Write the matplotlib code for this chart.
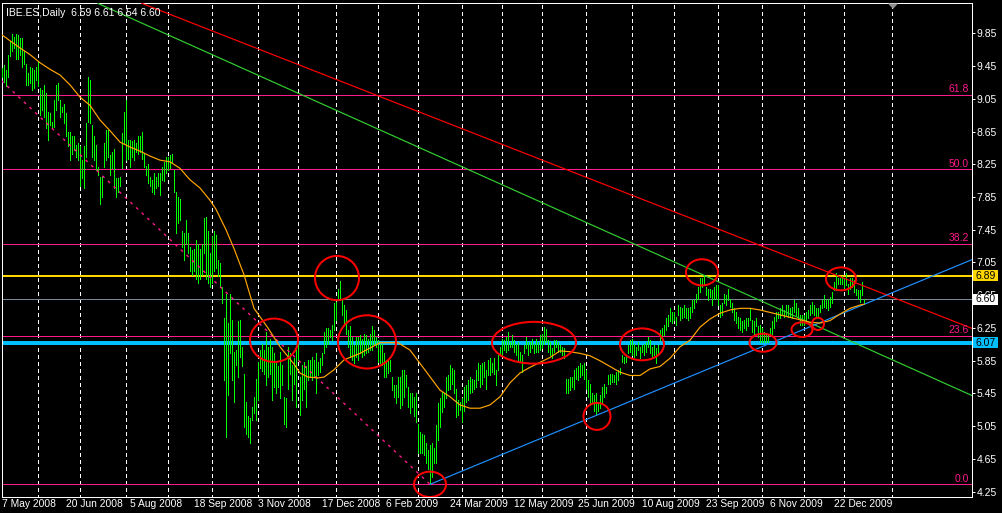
import matplotlib
matplotlib.use("Agg")
import matplotlib.pyplot as plt
import matplotlib.transforms as mtransforms
from matplotlib.patches import Ellipse, Rectangle, Polygon

# ---------------- data ----------------
symbol_title = "IBE.ES,Daily"
last_ohlc = [6.59, 6.61, 6.54, 6.60]

highs = [
    9.42, 9.46, 9.40, 9.59, 9.75, 9.84, 9.81, 9.84, 9.83, 9.79,
    9.79, 9.63, 9.48, 9.36, 9.44, 9.42, 9.40, 9.44, 9.50, 9.18,
    9.16, 9.22, 9.12, 8.89, 8.87, 8.77, 9.04, 9.22, 9.24, 9.04,
    8.95, 8.99, 8.87, 8.65, 8.65, 8.59, 8.59, 8.49, 8.51, 8.47,
    8.30, 8.47, 8.75, 9.32, 9.28, 8.73, 8.59, 8.49, 8.22, 8.10,
    8.10, 8.51, 8.67, 8.67, 8.36, 8.40, 8.44, 8.08, 8.08, 8.10,
    8.63, 8.89, 9.04, 8.55, 8.55, 8.53, 8.55, 8.51, 8.60, 8.59,
    8.65, 8.38, 8.23, 8.25, 8.10, 8.06, 8.14, 8.10, 8.14, 8.14,
    8.22, 8.28, 8.34, 8.34, 8.36, 8.38, 8.18, 7.91, 7.85, 7.83,
    7.43, 7.41, 7.57, 7.41, 7.24, 7.20, 7.22, 7.32, 7.28, 7.22,
    7.28, 7.59, 7.61, 7.43, 7.16, 7.37, 7.43, 7.38, 7.08, 7.04,
    6.75, 6.37, 6.67, 6.31, 6.67, 6.35, 5.96, 5.98, 6.33, 6.35,
    6.02, 5.69, 5.35, 5.17, 5.15, 5.29, 5.41, 5.63, 5.84, 5.98,
    6.06, 5.98, 6.20, 6.02, 6.12, 6.02, 5.94, 5.82, 5.78, 5.96,
    5.80, 5.41, 5.39, 6.02, 5.94, 5.80, 5.88, 6.02, 6.10, 5.65,
    5.80, 5.84, 5.78, 5.86, 5.86, 5.90, 5.86, 5.94, 5.84, 5.88,
    5.94, 6.20, 6.25, 6.25, 6.22, 6.29, 6.55, 6.57, 6.73, 6.82,
    6.59, 6.53, 6.47, 6.22, 6.27, 6.14, 6.04, 6.14, 6.14, 6.16,
    6.12, 6.18, 6.16, 6.12, 6.18, 6.27, 6.22, 6.14, 6.10, 6.06,
    6.06, 5.94, 5.86, 5.86, 5.86, 5.65, 5.55, 5.55, 5.65, 5.65,
    5.74, 5.74, 5.68, 5.53, 5.45, 5.45, 5.41, 5.45, 5.08, 4.98,
    4.96, 4.94, 4.84, 4.76, 4.82, 4.84, 4.78, 5.06, 5.33, 5.39,
    5.47, 5.46, 5.65, 5.67, 5.80, 5.76, 5.74, 5.51, 5.37, 5.35,
    5.39, 5.53, 5.55, 5.61, 5.65, 5.63, 5.61, 5.74, 5.82, 5.80,
    5.82, 5.84, 5.74, 5.86, 5.88, 5.82, 5.88, 5.74, 5.92, 6.02,
    6.12, 6.10, 6.14, 6.20, 6.08, 6.16, 6.10, 6.06, 6.08, 5.96,
    5.92, 6.04, 6.14, 6.08, 6.08, 6.12, 6.06, 6.12, 6.08, 6.16,
    6.18, 6.26, 6.24, 6.10, 6.08, 6.00, 6.10, 6.10, 6.08, 6.04,
    6.02, 6.00, 5.63, 5.63, 5.65, 5.65, 5.74, 5.76, 5.78, 5.82,
    5.80, 5.82, 5.74, 5.61, 5.57, 5.45, 5.43, 5.45, 5.33, 5.43,
    5.53, 5.57, 5.53, 5.67, 5.69, 5.69, 5.67, 5.71, 5.74, 5.76,
    5.92, 5.90, 5.92, 6.04, 6.10, 6.12, 6.06, 6.02, 6.08, 6.02,
    6.04, 6.06, 6.08, 6.14, 6.10, 6.02, 6.04, 6.00, 6.04, 6.22,
    6.25, 6.29, 6.37, 6.41, 6.49, 6.45, 6.45, 6.39, 6.53, 6.51,
    6.49, 6.53, 6.49, 6.49, 6.51, 6.59, 6.59, 6.67, 6.75, 6.86,
    6.86, 6.88, 6.75, 6.73, 6.73, 6.71, 6.75, 6.77, 6.77, 6.53,
    6.55, 6.67, 6.65, 6.73, 6.61, 6.55, 6.49, 6.45, 6.39, 6.37,
    6.33, 6.35, 6.37, 6.37, 6.49, 6.35, 6.33, 6.37, 6.27, 6.29,
    6.25, 6.20, 6.18, 6.16, 6.25, 6.33, 6.39, 6.45, 6.45, 6.49,
    6.53, 6.47, 6.53, 6.53, 6.49, 6.51, 6.59, 6.55, 6.49, 6.41,
    6.41, 6.41, 6.45, 6.47, 6.53, 6.57, 6.53, 6.49, 6.49, 6.53,
    6.59, 6.65, 6.59, 6.61, 6.63, 6.69, 6.81, 6.92, 6.86, 6.86,
    6.88, 6.86, 6.92, 6.79, 6.86, 6.86, 6.84, 6.73, 6.71, 6.71,
    6.81, 6.61,
]

lows = [
    9.32, 9.26, 9.20, 9.32, 9.57, 9.63, 9.67, 9.53, 9.54, 9.59,
    9.44, 9.48, 9.22, 9.22, 9.24, 9.16, 9.18, 9.28, 9.20, 8.85,
    8.91, 8.83, 8.69, 8.55, 8.73, 8.69, 8.71, 8.91, 9.04, 8.83,
    8.89, 8.75, 8.59, 8.47, 8.30, 8.38, 8.42, 8.34, 8.30, 7.98,
    8.08, 7.96, 8.34, 8.77, 8.75, 8.34, 8.30, 8.18, 8.12, 7.77,
    7.85, 8.22, 8.30, 8.34, 8.12, 8.20, 7.96, 7.85, 7.91, 7.98,
    8.20, 8.51, 8.30, 8.32, 8.22, 8.34, 8.30, 8.40, 8.38, 8.40,
    8.32, 8.22, 8.12, 8.02, 7.98, 7.91, 7.89, 7.96, 7.98, 7.87,
    8.06, 8.04, 8.14, 8.18, 8.20, 8.26, 7.91, 7.41, 7.53, 7.57,
    7.24, 7.08, 7.28, 7.16, 6.95, 6.90, 6.95, 6.85, 6.80, 6.85,
    6.90, 7.16, 6.85, 6.80, 6.75, 6.80, 6.95, 6.98, 6.88, 6.75,
    6.55, 5.61, 4.92, 5.43, 5.94, 5.61, 5.35, 5.80, 5.65, 5.90,
    5.78, 5.04, 4.96, 4.92, 4.84, 5.13, 5.21, 5.13, 5.37, 5.76,
    5.72, 5.69, 5.55, 5.65, 5.69, 5.37, 5.53, 5.45, 5.53, 5.39,
    5.55, 5.08, 5.04, 5.51, 5.69, 5.37, 5.57, 5.29, 5.86, 5.19,
    5.37, 5.51, 5.29, 5.61, 5.65, 5.61, 5.65, 5.45, 5.67, 5.71,
    5.80, 5.94, 6.02, 6.06, 6.14, 6.10, 6.22, 6.35, 6.59, 6.59,
    6.41, 6.31, 6.18, 6.02, 5.90, 5.86, 5.82, 5.90, 5.86, 5.94,
    5.90, 5.92, 5.94, 5.96, 5.98, 5.98, 6.06, 6.02, 5.84, 5.82,
    5.80, 5.65, 5.65, 5.70, 5.72, 5.49, 5.41, 5.33, 5.41, 5.27,
    5.31, 5.41, 5.53, 5.29, 5.21, 5.29, 5.17, 5.10, 4.72, 4.72,
    4.72, 4.70, 4.60, 4.53, 4.34, 4.43, 4.60, 4.60, 4.88, 5.04,
    5.22, 5.28, 5.39, 5.49, 5.51, 5.57, 5.45, 5.16, 5.19, 5.25,
    5.10, 5.23, 5.35, 5.37, 5.45, 5.47, 5.51, 5.53, 5.61, 5.53,
    5.57, 5.65, 5.51, 5.67, 5.67, 5.71, 5.69, 5.55, 5.74, 5.92,
    5.92, 5.98, 5.96, 5.98, 6.02, 6.02, 5.96, 5.92, 5.86, 5.84,
    5.71, 5.94, 6.00, 5.92, 5.96, 6.00, 5.94, 5.96, 5.96, 5.98,
    6.00, 6.06, 6.08, 5.96, 5.92, 5.88, 5.96, 6.02, 5.96, 5.96,
    5.92, 5.88, 5.45, 5.45, 5.49, 5.53, 5.51, 5.63, 5.61, 5.65,
    5.67, 5.63, 5.51, 5.41, 5.31, 5.35, 5.23, 5.20, 5.23, 5.27,
    5.33, 5.41, 5.45, 5.57, 5.57, 5.59, 5.59, 5.57, 5.61, 5.69,
    5.84, 5.82, 5.84, 5.94, 5.96, 5.92, 5.90, 5.92, 5.98, 5.88,
    5.96, 5.92, 5.96, 6.02, 5.94, 5.88, 5.92, 5.82, 5.92, 6.10,
    6.12, 6.16, 6.22, 6.27, 6.33, 6.31, 6.35, 6.29, 6.41, 6.35,
    6.37, 6.39, 6.37, 6.35, 6.37, 6.45, 6.49, 6.57, 6.61, 6.69,
    6.75, 6.77, 6.65, 6.59, 6.63, 6.53, 6.61, 6.61, 6.53, 6.39,
    6.41, 6.55, 6.53, 6.59, 6.51, 6.45, 6.35, 6.31, 6.25, 6.22,
    6.20, 6.25, 6.22, 6.27, 6.35, 6.20, 6.16, 6.27, 6.14, 6.08,
    6.08, 6.08, 6.08, 6.08, 6.16, 6.18, 6.25, 6.33, 6.37, 6.37,
    6.41, 6.39, 6.41, 6.39, 6.39, 6.37, 6.45, 6.41, 6.37, 6.29,
    6.29, 6.29, 6.33, 6.37, 6.41, 6.43, 6.41, 6.37, 6.39, 6.45,
    6.49, 6.51, 6.49, 6.47, 6.51, 6.55, 6.71, 6.71, 6.79, 6.79,
    6.79, 6.71, 6.77, 6.67, 6.73, 6.75, 6.69, 6.65, 6.61, 6.57,
    6.65, 6.54,
]

# moving average (orange), read at sampled bars
ma_bars = [0, 9, 14, 19, 24, 29, 34, 39, 44, 49, 54, 59, 64, 69, 74, 79, 84, 89,
           94, 99, 104, 107, 112, 116, 121, 126, 133, 139, 146, 149, 153, 158,
           161, 166, 171, 179, 189, 198, 204, 212, 219, 224, 229, 234, 239, 244,
           249, 254, 259, 264, 269, 274, 279, 284, 289, 294, 299, 304, 309, 314,
           319, 324, 329, 334, 339, 344, 349, 354, 359, 364, 369, 374, 379, 384,
           389, 394, 399, 404, 409, 414, 419, 424, 429, 431]
ma_values = [9.83, 9.67, 9.59, 9.49, 9.41, 9.34, 9.22, 9.07, 8.97, 8.79, 8.66,
             8.52, 8.46, 8.41, 8.35, 8.30, 8.28, 8.20, 8.06, 7.96, 7.81, 7.70,
             7.45, 7.22, 6.90, 6.49, 6.25, 6.02, 5.81, 5.70, 5.65, 5.64, 5.65,
             5.74, 5.86, 5.94, 6.07, 6.07, 5.98, 5.72, 5.49, 5.41, 5.31, 5.27,
             5.27, 5.31, 5.41, 5.58, 5.70, 5.77, 5.83, 5.89, 5.97, 5.96, 5.94,
             5.91, 5.85, 5.78, 5.71, 5.67, 5.67, 5.75, 5.78, 5.88, 6.02, 6.10,
             6.26, 6.36, 6.43, 6.47, 6.49, 6.49, 6.47, 6.44, 6.41, 6.38, 6.35,
             6.32, 6.31, 6.34, 6.42, 6.49, 6.53, 6.54]

# month separators (bar index) and date labels (every 32 bars)
month_start_bars = [18, 39, 62, 83, 105, 128, 148, 167, 188, 208, 230, 250,
                    270, 292, 315, 336, 358, 380, 401, 421, 445]
date_labels = ["7 May 2008", "20 Jun 2008", "5 Aug 2008", "18 Sep 2008",
               "3 Nov 2008", "17 Dec 2008", "6 Feb 2009", "24 Mar 2009",
               "12 May 2009", "25 Jun 2009", "10 Aug 2009", "23 Sep 2009",
               "6 Nov 2009", "22 Dec 2009"]
date_label_bars = [0, 32, 64, 96, 128, 160, 192, 224, 256, 288, 320, 352, 384, 416]

price_ticks = [4.25, 4.65, 5.05, 5.45, 5.85, 6.25, 6.65, 7.05, 7.45, 7.85,
               8.25, 8.65, 9.05, 9.45, 9.85]

fib_low = 4.34
fib_high = 12.04
fib_ratios = [0.0, 0.236, 0.382, 0.5, 0.618]

level_yellow = 6.89
level_last = 6.60
level_cyan = 6.07

# trend lines: two anchor points (bar index, price)
red_line = [(70.5, 10.21), (484.5, 6.25)]
green_line = [(47.5, 10.22), (484.5, 5.43)]
blue_ray = [(214, 4.34), (484.5, 7.08)]
pink_segment = [(-0.25, 9.27), (214, 4.34)]

# red annotation ellipses: (bar, price, width in bars, height in price)
circles = [
    (167.5, 6.86, 22, 0.54),
    (136.0, 6.10, 24, 0.53),
    (182.5, 6.08, 29, 0.65),
    (266.0, 6.07, 42, 0.51),
    (320.0, 6.05, 22, 0.39),
    (297.5, 5.17, 13.5, 0.33),
    (214.0, 4.34, 16, 0.31),
    (350.0, 6.93, 16, 0.32),
    (419.5, 6.85, 15, 0.28),
    (380.5, 6.07, 13.5, 0.22),
    (400.0, 6.23, 10.5, 0.18),
    (408.0, 6.30, 6, 0.15),
]

# ---------------- figure ----------------
W, H, DPI = 1002, 513, 100
PX = 72.0 / DPI  # one pixel in points
plt.rcParams['font.family'] = ['Liberation Sans', 'DejaVu Sans']

fig = plt.figure(figsize=(W / DPI, H / DPI), dpi=DPI, facecolor='black')
ax_l, ax_r, ax_t, ax_b = 1.5, 971.7, 3.3, 496.7
ax = fig.add_axes([ax_l / W, 1 - ax_b / H, (ax_r - ax_l) / W, (ax_b - ax_t) / H])
ax.set_facecolor('black')
ax.set_xlim(-0.25, 484.85)
ax.set_ylim(4.189, 10.216)
for s in ax.spines.values():
    s.set_color('white')
    s.set_linewidth(PX)

LINE = 1.2 * PX

# grid (month separators)
ax.vlines(month_start_bars, 4.0, 11.0, colors='white', linewidth=PX,
          linestyles=(0, (4, 3)), antialiased=False, zorder=1)

# fibonacci levels
for r in fib_ratios:
    lvl = fib_low + r * (fib_high - fib_low)
    ax.axhline(lvl, color='#FF1A8C', linewidth=PX, antialiased=False, zorder=2)
    ax.annotate(f"{r * 100:.1f}", xy=(0.9968, lvl),
                xycoords=mtransforms.blended_transform_factory(ax.transAxes, ax.transData),
                xytext=(0, 2.5), textcoords='offset pixels', ha='right', va='baseline',
                color='#FF1A8C', fontsize=7.5, zorder=6)

# horizontal levels
ax.axhline(level_yellow, color='#FFD700', linewidth=2 * PX, antialiased=False, zorder=2)
ax.axhline(level_last, color='#778899', linewidth=PX, antialiased=False, zorder=2)
ax.axhline(level_cyan, color='#00BFFF', linewidth=2.3 * PX, antialiased=False, zorder=2)

# trend lines
ax.axline(red_line[0], red_line[1], color='#FF0000', linewidth=LINE, zorder=4)
ax.axline(green_line[0], green_line[1], color='#32CD32', linewidth=LINE, zorder=4)
(bx0, by0), (bx1, by1) = blue_ray
xr = ax.get_xlim()[1]
ax.plot([bx0, xr], [by0, by0 + (by1 - by0) * (xr - bx0) / (bx1 - bx0)],
        color='#1E90FF', linewidth=LINE, zorder=4)
ax.plot([p[0] for p in pink_segment], [p[1] for p in pink_segment],
        color='#FF1A8C', linewidth=1.4 * PX, linestyle=(0, (2, 3.5)), zorder=4)

# price bars
ax.vlines(range(len(highs)), lows, highs, colors='#00FF00', linewidth=PX,
          antialiased=False, zorder=3)

# moving average
ax.plot(ma_bars, ma_values, color='#FFA500', linewidth=1.2 * PX, zorder=4)

# red ellipses
for cx, cy, w, h in circles:
    ax.add_patch(Ellipse((cx, cy), w, h, fill=False, edgecolor='#FF0000',
                         linewidth=2 * PX, zorder=5))

# axes ticks
ax.yaxis.tick_right()
ax.set_yticks(price_ticks)
ax.set_yticklabels([f"{v:.2f}" for v in price_ticks])
ax.tick_params(axis='y', colors='white', labelcolor='white', length=3 * PX,
               width=PX, pad=2 * PX, labelsize=7.5)
ax.set_xticks(date_label_bars)
ax.set_xticklabels(date_labels, ha='left')
ax.tick_params(axis='x', colors='white', labelcolor='white', length=0,
               pad=2.5 * PX, labelsize=7.4)

# price boxes on right axis
bt = mtransforms.blended_transform_factory(ax.transAxes, ax.transData)
box_h = 10.5 / 81.86
for lvl, fc, txt in [(level_yellow, '#FFD700', f"{level_yellow:.2f}"),
                     (level_last, '#FFFFFF', f"{level_last:.2f}"),
                     (level_cyan, '#00BFFF', f"{level_cyan:.2f}")]:
    ax.add_patch(Rectangle((1.0011, lvl - box_h / 2), 0.0264, box_h, transform=bt,
                           facecolor=fc, edgecolor='none', clip_on=False, zorder=10))
    ax.text(1.0035, lvl, txt, transform=bt, ha='left', va='center', color='black',
            fontsize=7.5, clip_on=False, zorder=11)

# title
pix = mtransforms.Affine2D().scale(1.0 / W, -1.0 / H).translate(0, 1) + fig.transFigure
title = symbol_title + "  " + " ".join(f"{v:.2f}" for v in last_ohlc)
fig.text(6, 15.5, title, transform=pix, color='white', fontsize=7.5, va='baseline')

# chart shift marker
fig.add_artist(Polygon([(888, 3.5), (898, 3.5), (893, 9)], closed=True,
                       facecolor='#909090', edgecolor='none', transform=pix, zorder=6))

fig.savefig('out.png', dpi=DPI, facecolor='black')
